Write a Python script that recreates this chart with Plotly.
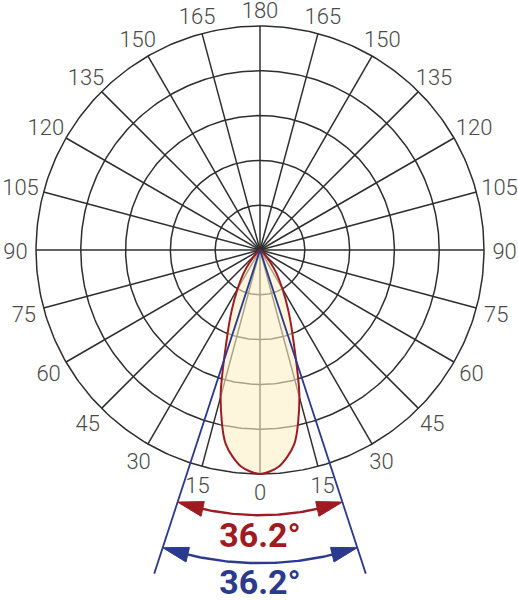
import numpy as np
import plotly.graph_objects as go

# ---- data ----
ring_values = [1, 2, 3, 4, 5]                     # radial grid rings (outer = 100 %)
spoke_angles = list(range(0, 360, 15))            # angular grid (0 = straight down)
tick_labels = [str(a if a <= 180 else 360 - a) for a in spoke_angles]
curve_angles = [0, 5, 10, 15, 20, 25, 30, 35, 40, 45, 50, 55, 60, 70, 80, 90]
curve_intensity = [100, 97, 88, 68, 44, 30, 20, 13, 7, 3, 1.2, 0.5, 0.2, 0, 0, 0]  # % of max
beam_angle_c0 = 36.2
beam_angle_c90 = 36.2

RED = "#9e1b22"
BLUE = "#2b3a8e"
GRID = "#2e2e2e"
RMAX = 5.0
PX = 44.8  # pixels per radial unit


def pol(r, theta_deg):
    r = np.asarray(r, dtype=float)
    t = np.radians(np.asarray(theta_deg, dtype=float))
    return r * np.sin(t), -r * np.cos(t)


fig = go.Figure()

# grid rings
gx, gy = [], []
full = np.linspace(0, 360, 361)
for rv in ring_values:
    x, y = pol(np.full_like(full, rv), full)
    gx += list(x) + [None]
    gy += list(y) + [None]
fig.add_trace(go.Scatter(x=gx, y=gy, mode="lines",
                         line=dict(color=GRID, width=1.5), hoverinfo="skip"))

# spokes
sx, sy = [], []
for a in spoke_angles:
    x, y = pol([0, RMAX], [a, a])
    sx += list(x) + [None]
    sy += list(y) + [None]
fig.add_trace(go.Scatter(x=sx, y=sy, mode="lines",
                         line=dict(color=GRID, width=1.5), hoverinfo="skip"))

# intensity curve (mirrored)
th = [-a for a in curve_angles[::-1]] + curve_angles[1:]
rr = [v / 100 * RMAX for v in curve_intensity[::-1]] + [v / 100 * RMAX for v in curve_intensity[1:]]
cx, cy = pol(rr, th)
fig.add_trace(go.Scatter(
    x=cx, y=cy, mode="lines", fill="toself",
    fillcolor="rgba(251,240,198,0.6)",
    line=dict(color=RED, width=2, shape="spline", smoothing=0.8),
    hoverinfo="skip"))

# beam lines (C90)
h90 = beam_angle_c90 / 2
bx, by = pol([7.6, 0, 7.6], [-h90, 0, h90])
fig.add_trace(go.Scatter(x=bx, y=by, mode="lines",
                         line=dict(color=BLUE, width=1.8), hoverinfo="skip"))


def arc_with_arrows(r_arc, half, color, head_len_px=26, head_half_px=7.5):
    d = np.degrees(head_len_px / (r_arc * PX))
    w = head_half_px / PX
    t = np.linspace(-half + d * 0.6, half - d * 0.6, 60)
    ax_, ay_ = pol(np.full_like(t, r_arc), t)
    fig.add_trace(go.Scatter(x=ax_, y=ay_, mode="lines",
                             line=dict(color=color, width=2.4), hoverinfo="skip"))
    for s in (-1, 1):
        tip = s * half
        base = s * (half - d)
        hx, hy = pol([r_arc, r_arc + w, r_arc - w, r_arc], [tip, base, base, tip])
        fig.add_trace(go.Scatter(x=hx, y=hy, mode="lines", fill="toself",
                                 fillcolor=color, line=dict(color=color, width=1),
                                 hoverinfo="skip"))


h0 = beam_angle_c0 / 2
arc_with_arrows(5.92, h0, RED)
arc_with_arrows(6.99, h90, BLUE)

# beam-angle texts
tx, ty = pol([6.43], [0])
fig.add_trace(go.Scatter(x=tx, y=ty, mode="text", text=[f"<b>{beam_angle_c0}°</b>"],
                         textfont=dict(family="Roboto", size=34, color=RED),
                         hoverinfo="skip"))
tx, ty = pol([7.48], [0])
fig.add_trace(go.Scatter(x=tx, y=ty, mode="text", text=[f"<b>{beam_angle_c90}°</b>"],
                         textfont=dict(family="Roboto", size=34, color=BLUE),
                         hoverinfo="skip"))

# angular labels (offset a little more for wider labels on the sides)
label_r = [5.38 + 0.08 * (len(t) - 1) * abs(np.sin(np.radians(a)))
           for a, t in zip(spoke_angles, tick_labels)]
lx, ly = pol(label_r, spoke_angles)
ly = ly - 3.5 / PX
fig.add_trace(go.Scatter(x=lx, y=ly, mode="text", text=tick_labels,
                         textfont=dict(family="Roboto", size=22, color="#4a4a4a", weight=300),
                         hoverinfo="skip"))

fig.update_layout(
    width=518, height=600,
    margin=dict(l=0, r=0, t=0, b=0),
    paper_bgcolor="white", plot_bgcolor="white",
    showlegend=False,
    xaxis=dict(range=[-260 / PX, 258 / PX], visible=False, fixedrange=True),
    yaxis=dict(range=[-350 / PX, 250 / PX], visible=False, fixedrange=True),
)
for tr in fig.data:
    tr.cliponaxis = False

fig.write_html("out.html", config={"displayModeBar": False},
               post_script="document.body.style.margin='0px';document.body.style.overflow='hidden';")
